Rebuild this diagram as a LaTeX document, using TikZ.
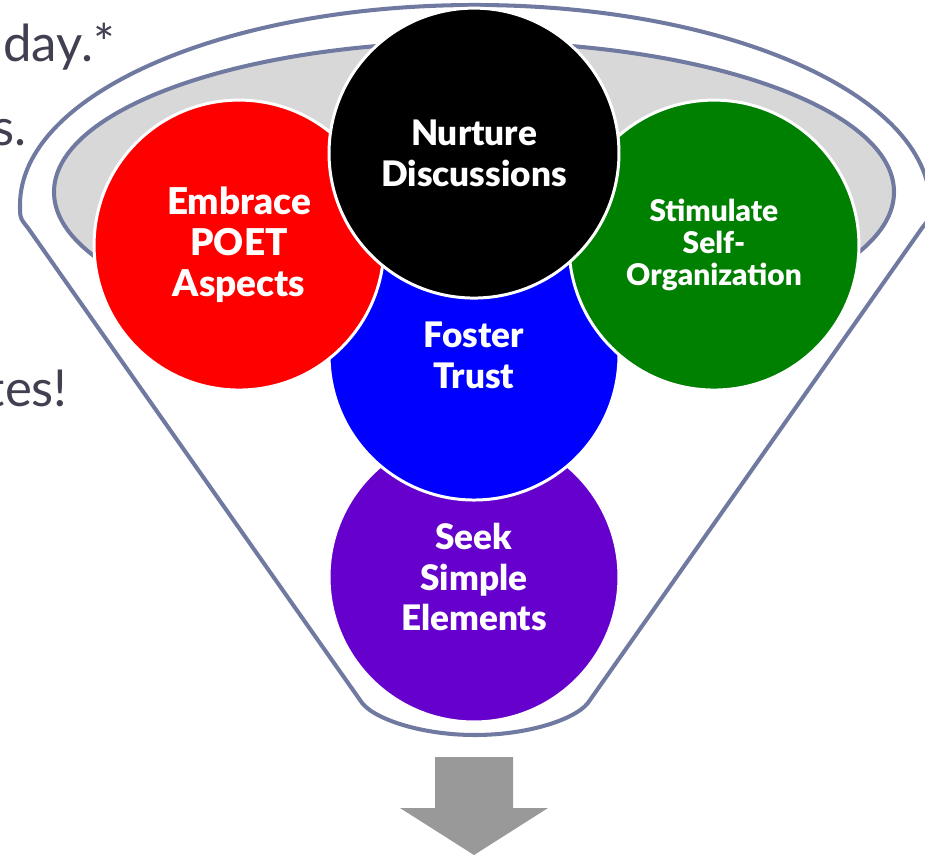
\documentclass[tikz,border=0pt]{standalone}
\usepackage{fontspec}
\setmainfont{Lato}[BoldFont={Lato Black}]
\usetikzlibrary{positioning}
\definecolor{funnel}{RGB}{112,122,160}
\definecolor{mouthgray}{RGB}{216,216,216}
\definecolor{slidetext}{RGB}{64,64,80}
\definecolor{arrowgray}{RGB}{153,153,153}
\definecolor{seekpurple}{RGB}{102,0,204}
\definecolor{orggreen}{RGB}{0,128,0}
\tikzset{
  ball/.style={circle, draw=white, line width=1.7pt, minimum size=5.8cm, inner sep=0pt,
    text=white, align=center, font=\bfseries\fontsize{20}{23.3}\selectfont},
  funnelline/.style={draw=funnel, line width=2.3pt, line join=round},
}
\begin{document}
\begin{tikzpicture}[x=0.02cm, y=-0.02cm, on grid]
    \useasboundingbox (0,0) rectangle (925,855);
    \clip (0,0) rectangle (925,855);
    \foreach \t/\x/\y [count=\k] in {day.*/115/62, s./27/145, tes!/68/406} {
      \node[anchor=base east, inner sep=0pt, text=slidetext, font=\fontsize{29}{34}\selectfont] (frag\k) at (\x,\y) {\t};
    }
    \draw[funnelline] (360,700) -- (28,228) .. controls (20,218) .. (20,205)
      arc[start angle=180, end angle=360, x radius=455, y radius=200]
      .. controls (930,218) .. (922,228) -- (590,700)
      .. controls (580,718) and (530,735) .. (475,735)
      .. controls (420,735) and (370,718) .. (360,700) -- cycle;
    \draw[funnelline, fill=mouthgray] (474,192) ellipse[x radius=420, y radius=150];
    \node[ball, fill=seekpurple] (seek) at (474,577) {Seek\\Simple\\Elements};
    \node[ball, fill=blue, above=4.44cm of seek] (trust) {Foster\\Trust};
    \node[ball, fill=red, above left=2.2cm and 4.7cm of trust,
      font=\bfseries\fontsize{21}{23.3}\selectfont] (poet) {Embrace\\POET\\Aspects};
    \node[ball, fill=orggreen, above right=2.2cm and 4.8cm of trust,
      font=\bfseries\fontsize{17}{18.2}\selectfont] (selforg) {Stimulate\\Self-\\Organization};
    \node[ball, fill=black, above=4.04cm of trust] (discuss) {Nurture\\Discussions};
    \fill[arrowgray] (435,757) -- (513,757) -- (513,808) -- (548,808) -- (474,855)
      -- (400,808) -- (435,808) -- cycle;
\end{tikzpicture}
\end{document}
